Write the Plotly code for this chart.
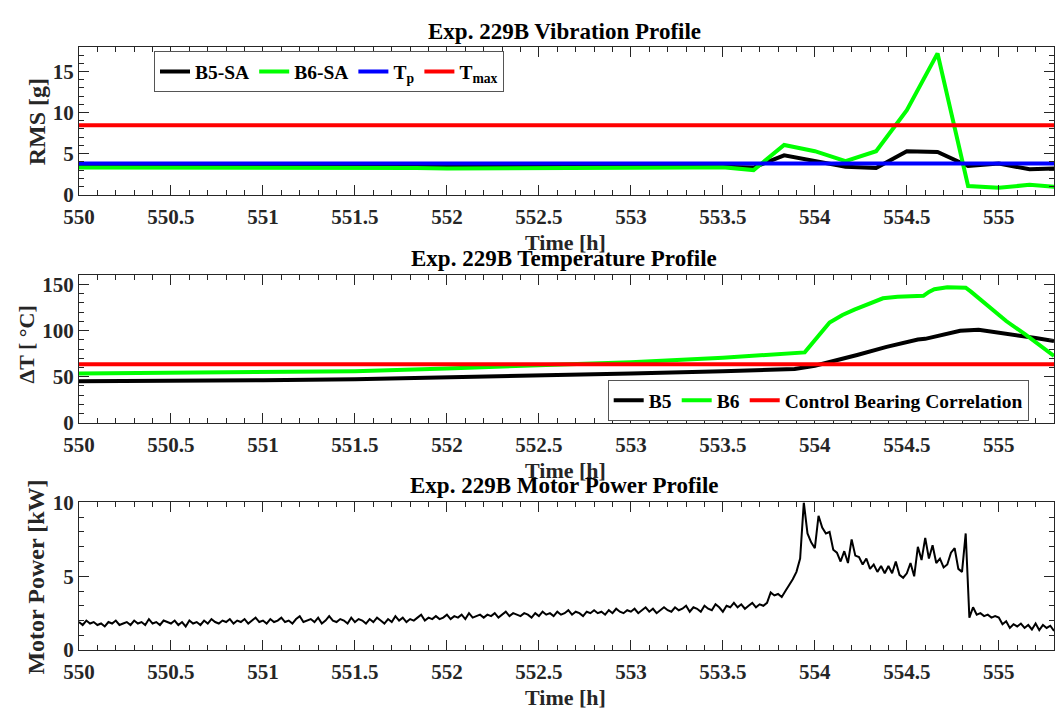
import numpy as np
import plotly.graph_objects as go

# ---------------- data ----------------
# Vibration (RMS, g) sampled every 10 min
vib_time = [550.000, 550.167, 550.333, 550.500, 550.667, 550.833, 551.000, 551.167,
            551.333, 551.500, 551.667, 551.833, 552.000, 552.167, 552.333, 552.500,
            552.667, 552.833, 553.000, 553.167, 553.333, 553.500, 553.667, 553.833,
            554.000, 554.167, 554.333, 554.500, 554.667, 554.833, 555.000, 555.167,
            555.333]
b5_sa = [3.5, 3.6, 3.5, 3.4, 3.5, 3.6, 3.5, 3.5, 3.4, 3.5, 3.6, 3.5, 3.4, 3.5, 3.6, 3.5,
         3.5, 3.6, 3.5, 3.6, 3.5, 3.4, 3.3, 4.8, 4.1, 3.4, 3.25, 5.3, 5.2, 3.5, 3.8, 3.1, 3.2]
b6_sa = [3.3, 3.3, 3.25, 3.3, 3.35, 3.3, 3.3, 3.25, 3.3, 3.35, 3.3, 3.25, 3.2, 3.2, 3.3, 3.3,
         3.3, 3.3, 3.3, 3.3, 3.3, 3.35, 3.0, 6.05, 5.3, 4.1, 5.3, 10.3, 17.2, 1.06, 0.85, 1.2, 0.9]
t_p = 3.8
t_max = 8.45

# Temperature rise (deg C)
b5_time = [550.0, 550.5, 551.0, 551.5, 552.0, 552.5, 553.0, 553.5, 553.8, 553.89, 554.0,
           554.1, 554.23, 554.39, 554.5, 554.56, 554.6, 554.7, 554.79, 554.89, 555.0,
           555.1, 555.2, 555.3]
b5_temp = [45.2, 45.5, 46.3, 47.2, 49.0, 50.8, 53.6, 56.0, 57.5, 58.5, 62.0,
           66.6, 73.6, 82.4, 87.5, 90.4, 91.1, 95.5, 99.9, 100.9, 98.1,
           95.3, 92.0, 88.7]
b6_time = [550.0, 550.5, 551.0, 551.5, 552.0, 552.3, 552.5, 553.0, 553.5, 553.8, 553.945,
           554.08, 554.15, 554.215, 554.3, 554.37, 554.45, 554.59, 554.62, 554.65, 554.72,
           554.82, 554.85, 554.95, 555.04, 555.14, 555.22, 555.3]
b6_temp = [53.5, 54.0, 55.0, 56.0, 59.0, 61.0, 62.5, 65.8, 70.5, 74.5, 76.4,
           108.7, 117.0, 122.7, 129.7, 135.0, 136.7, 137.7, 142.0, 144.8, 146.9,
           146.5, 142.0, 126.0, 110.4, 96.4, 84.0, 72.6]
control_corr = 63.5

# Motor power (kW) every 0.02 h from 550.00 h
power = [
    1.9, 1.7, 2.0, 1.8, 1.9, 1.7, 1.8, 1.6, 1.9, 1.8,
    2.0, 1.7, 1.8, 1.9, 1.7, 2.0, 1.8, 1.9, 1.7, 2.1,
    1.8, 1.9, 1.7, 2.0, 1.9, 1.8, 2.0, 1.7, 1.9, 1.6,
    2.0, 1.8, 1.9, 1.7, 2.0, 1.8, 2.1, 1.9, 1.8, 2.0,
    1.9, 2.1, 1.8, 2.0, 1.9, 2.1, 1.8, 2.0, 2.2, 1.9,
    2.0, 1.8, 2.1, 1.9, 2.0, 2.2, 1.9, 2.0, 1.8, 2.1,
    2.3, 1.9, 2.0, 2.1, 1.9, 2.2, 1.8, 2.0, 2.3, 2.0,
    1.9, 2.1, 2.0, 1.8, 2.2, 1.9, 2.1, 2.0, 1.8, 2.1,
    1.9, 2.2, 2.0, 1.8, 2.1, 1.9, 2.3, 2.0, 2.2, 1.9,
    2.1, 2.0, 2.2, 2.4, 2.0, 2.2, 2.1, 2.3, 2.1, 2.2,
    2.4, 2.1, 2.3, 2.2, 2.4, 2.1, 2.5, 2.2, 2.3, 2.4,
    2.2, 2.4, 2.3, 2.5, 2.2, 2.4, 2.6, 2.3, 2.5, 2.4,
    2.3, 2.5, 2.4, 2.2, 2.5, 2.3, 2.6, 2.4, 2.5, 2.3,
    2.6, 2.4, 2.5, 2.7, 2.4, 2.6, 2.5, 2.3, 2.6, 2.5,
    2.7, 2.5, 2.6, 2.4, 2.7, 2.5, 2.8, 2.6, 2.5, 2.7,
    2.6, 2.8, 2.5, 2.7, 2.9, 2.6, 2.8, 2.5, 2.7, 2.9,
    2.7, 2.6, 2.9, 2.7, 2.8, 3.0, 2.6, 2.9, 2.8, 2.6,
    3.0, 2.8, 2.7, 3.1, 2.9, 2.6, 3.0, 2.9, 3.2, 2.9,
    3.1, 2.8, 3.0, 3.2, 2.9, 3.1, 3.0, 3.2, 3.9, 3.7,
    3.8, 3.6, 4.0, 4.4, 4.8, 5.3, 6.2, 10.0, 7.9, 7.3,
    6.9, 9.1, 8.3, 7.9, 8.0, 6.8, 6.6, 6.0, 6.7, 5.9,
    7.5, 6.4, 6.3, 5.8, 6.2, 5.5, 5.8, 5.3, 5.7, 5.2,
    5.7, 5.2, 6.0, 5.1, 4.9, 5.2, 5.9, 5.0, 7.0, 6.1,
    7.6, 6.2, 7.1, 5.9, 6.2, 5.6, 5.8, 6.6, 6.9, 5.5,
    5.3, 7.9, 2.2, 2.9, 2.4, 2.5, 2.3, 2.4, 2.2, 2.3,
    2.2, 1.75, 1.95, 1.5, 1.75, 1.6, 1.8, 1.5, 1.7, 1.4,
    1.8, 1.35, 1.7, 1.5, 1.65, 1.3,
]
power_time = np.round(550.0 + 0.02 * np.arange(len(power)), 2)

x_range = [550, 555.3]
vib_range = [0, 18]
temp_range = [0, 160]
pow_range = [0, 10]

# ---------------- layout helpers ----------------
W, H = 1055, 723
ML, MR = 79, 1
PW = W - ML - MR

def px_x(px):
    return (px - ML) / PW

def px_y(py):
    return 1 - py / H

FONT = "Liberation Serif"
AX = "#262626"

def xaxis(anchor):
    return dict(range=x_range, domain=[0, 1], anchor=anchor, tick0=550, dtick=0.5,
                ticks="inside", ticklen=10, tickwidth=1, tickcolor=AX,
                showline=True, linecolor=AX, linewidth=1, mirror="allticks",
                showgrid=False, zeroline=False, ticklabelstandoff=3,
                tickfont=dict(family=FONT, size=21, color=AX, weight="bold"),
                minor=dict(dtick=0.1, ticks="inside", ticklen=5, tickcolor=AX, showgrid=False))

def yaxis(anchor, dom, rng, dt, mdt):
    return dict(range=rng, domain=dom, anchor=anchor, tick0=0, dtick=dt,
                ticks="inside", ticklen=10, tickwidth=1, tickcolor=AX,
                showline=True, linecolor=AX, linewidth=1, mirror="allticks",
                showgrid=False, zeroline=False,
                tickfont=dict(family=FONT, size=21, color=AX, weight="bold"),
                minor=dict(dtick=mdt, ticks="inside", ticklen=5, tickcolor=AX, showgrid=False))

fig = go.Figure()

# Panel 1
fig.add_trace(go.Scatter(x=vib_time, y=b5_sa, mode="lines", name="B5-SA",
                         line=dict(color="black", width=4), xaxis="x", yaxis="y", legend="legend"))
fig.add_trace(go.Scatter(x=vib_time, y=b6_sa, mode="lines", name="B6-SA",
                         line=dict(color="#00FF00", width=4), xaxis="x", yaxis="y", legend="legend"))
fig.add_trace(go.Scatter(x=x_range, y=[t_p, t_p], mode="lines", name="T<sub>p</sub>",
                         line=dict(color="#0000FF", width=4), xaxis="x", yaxis="y", legend="legend"))
fig.add_trace(go.Scatter(x=x_range, y=[t_max, t_max], mode="lines", name="T<sub>max</sub>",
                         line=dict(color="#FF0000", width=4), xaxis="x", yaxis="y", legend="legend"))

# Panel 2
fig.add_trace(go.Scatter(x=b5_time, y=b5_temp, mode="lines", name="B5",
                         line=dict(color="black", width=4), xaxis="x2", yaxis="y2", legend="legend2"))
fig.add_trace(go.Scatter(x=b6_time, y=b6_temp, mode="lines", name="B6",
                         line=dict(color="#00FF00", width=4), xaxis="x2", yaxis="y2", legend="legend2"))
fig.add_trace(go.Scatter(x=x_range, y=[control_corr, control_corr], mode="lines",
                         name="Control Bearing Correlation",
                         line=dict(color="#FF0000", width=4), xaxis="x2", yaxis="y2", legend="legend2"))

# Panel 3
fig.add_trace(go.Scatter(x=power_time, y=power, mode="lines", showlegend=False,
                         line=dict(color="black", width=2), xaxis="x3", yaxis="y3"))

dom1 = [px_y(189), px_y(36)]
dom2 = [px_y(425), px_y(272.3)]
dom3 = [px_y(660), px_y(507.3)]

legend_font = dict(family=FONT, size=19.5, color="black", weight="bold")

fig.update_layout(
    width=W, height=H,
    margin=dict(l=ML, r=MR, t=0, b=0),
    paper_bgcolor="white", plot_bgcolor="white",
    xaxis=xaxis("y"), yaxis=yaxis("x", dom1, vib_range, 5, 1),
    xaxis2=xaxis("y2"), yaxis2=yaxis("x2", dom2, temp_range, 50, 10),
    xaxis3=xaxis("y3"), yaxis3=yaxis("x3", dom3, pow_range, 5, 1),
    legend=dict(x=px_x(154), y=px_y(62), xanchor="left", yanchor="middle", orientation="h",
                bgcolor="white", bordercolor="#555555", borderwidth=1, font=legend_font,
                tracegroupgap=0, itemwidth=30),
    legend2=dict(x=px_x(607.7), y=px_y(423), xanchor="left", yanchor="bottom", orientation="h",
                 bgcolor="white", bordercolor="#555555", borderwidth=1, font=legend_font,
                 tracegroupgap=0, itemwidth=30),
    showlegend=True,
)

title_font = dict(family=FONT, size=23, color="black", weight="bold")
label_font = dict(family=FONT, size=22, color=AX, weight="bold")

annotations = []
for text, py in [("Exp. 229B Vibration Profile", 20),
                 ("Exp. 229B Temperature Profile", 255),
                 ("Exp. 229B Motor Power Profile", 490)]:
    annotations.append(dict(text=text, x=px_x(564), y=px_y(py), xref="paper", yref="paper",
                            xanchor="center", yanchor="middle", showarrow=False, font=title_font))
for py in [238, 474, 709]:
    annotations.append(dict(text="Time [h]", x=px_x(565), y=px_y(py), xref="paper", yref="paper",
                            xanchor="center", yanchor="middle", showarrow=False, font=label_font))
for text, px, py, fs in [("RMS [g]", 37, 114, 24), ("ΔT [ °C]", 27, 344, 22),
                         ("Motor Power [kW]", 36, 585, 24)]:
    annotations.append(dict(text=text, x=px_x(px), y=px_y(py), xref="paper", yref="paper",
                            xanchor="center", yanchor="middle", textangle=-90, showarrow=False,
                            font=dict(family=FONT, size=fs, color=AX, weight="bold")))
fig.update_layout(annotations=annotations)

fig.write_html("out.html", config={"displayModeBar": False},
               post_script="document.body.style.margin='0';document.body.style.overflow='hidden';")
